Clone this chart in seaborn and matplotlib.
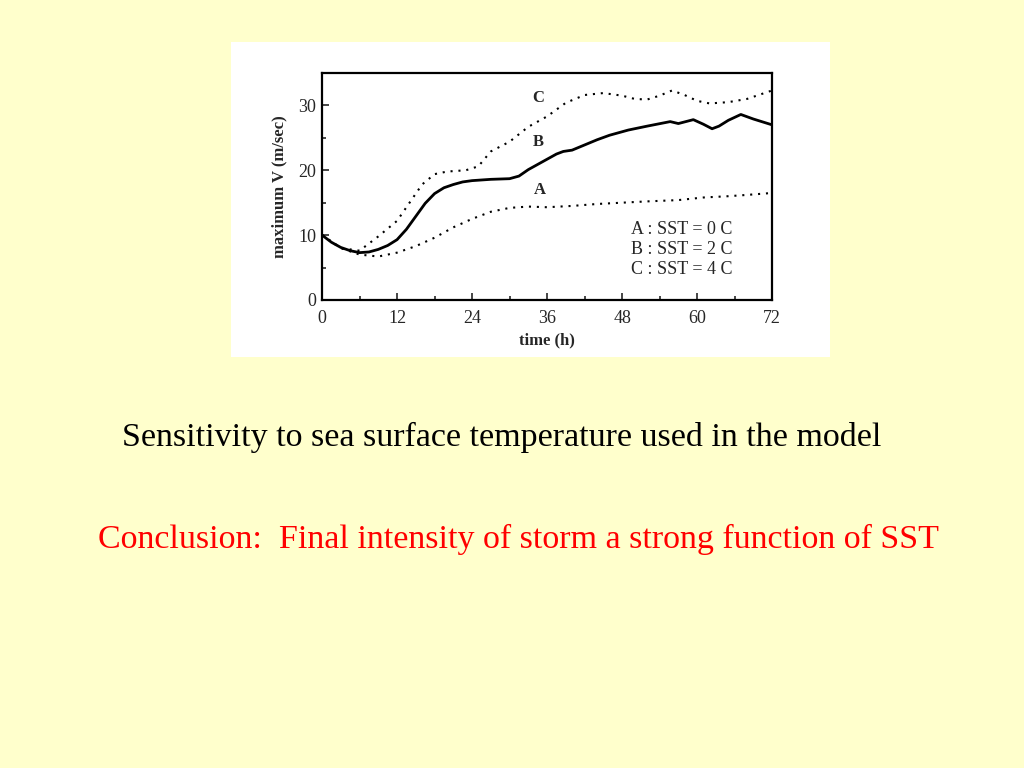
import matplotlib
matplotlib.use("Agg")
import matplotlib.pyplot as plt
from matplotlib.patches import Rectangle
from matplotlib.ticker import MultipleLocator
import seaborn as sns
import pandas as pd

# data
time_a = [0, 3, 6, 9, 12, 15, 18, 21, 24, 27, 30, 33, 36, 40, 44, 48, 52, 57, 61, 65, 68, 72]
sst_a = [10, 8.0, 7.0, 6.7, 7.3, 8.3, 9.6, 11.2, 12.5, 13.6, 14.2, 14.4, 14.3, 14.5, 14.8, 15.0, 15.2, 15.4, 15.8, 16.0, 16.2, 16.5]

time_b = [0, 1.5, 3, 4.5, 6, 7.5, 9, 10.5, 12, 13.5, 15, 16.5, 18, 19.5, 21, 22.5, 24, 27, 30, 31.5,
          33, 34.5, 36, 37.5, 38.6, 40, 42, 44, 46, 49, 52, 55.7, 57, 59.4, 61, 62.4, 63.5, 65, 67, 69, 72]
sst_b = [10, 8.9, 8.1, 7.6, 7.3, 7.4, 7.8, 8.4, 9.3, 10.9, 12.9, 14.9, 16.4, 17.3, 17.8, 18.2, 18.4, 18.6, 18.7, 19.1,
         20.1, 20.9, 21.7, 22.5, 22.9, 23.1, 23.9, 24.7, 25.4, 26.2, 26.8, 27.5, 27.2, 27.8, 27.1, 26.4, 26.8, 27.7, 28.6, 27.9, 27.0]

time_c = [0, 3, 6, 9, 12, 14, 16, 18, 20, 23, 25, 27, 30, 33, 36, 39, 42, 45, 48, 50, 52, 54, 56, 58, 60, 62, 65, 68, 72]
sst_c = [10, 8.0, 7.6, 9.8, 12.2, 15.0, 17.8, 19.4, 19.8, 20.0, 20.6, 22.9, 24.4, 26.7, 28.3, 30.4, 31.6, 31.9, 31.5, 31.0, 30.9, 31.5, 32.3, 31.6, 30.7, 30.3, 30.5, 31.0, 32.3]

curve_names = ["A", "B", "C"]
legend_lines = ["A : SST = 0 C", "B : SST = 2 C", "C : SST = 4 C"]
x_ticks = [0, 12, 24, 36, 48, 60, 72]
y_ticks = [0, 10, 20, 30]

df = pd.concat([
    pd.DataFrame({"time": time_a, "v": sst_a, "run": "A"}),
    pd.DataFrame({"time": time_b, "v": sst_b, "run": "B"}),
    pd.DataFrame({"time": time_c, "v": sst_c, "run": "C"}),
])

sns.set_style("ticks")
plt.rcParams["font.family"] = ["Liberation Serif", "DejaVu Serif"]

bg = "#FFFFCC"
fig = plt.figure(figsize=(10.24, 7.68), dpi=100, facecolor=bg)
fig.patches.append(Rectangle((0.2256, 0.5352), 0.585, 0.41, transform=fig.transFigure,
                             facecolor="white", edgecolor="none", zorder=-10))

ax = fig.add_axes([0.3145, 0.6094, 0.4395, 0.2956])
ax.set_facecolor("white")

styles = {"A": (0, (1, 2.8)), "B": "-", "C": (0, (1, 2.8))}
widths = {"A": 1.5, "B": 2.0, "C": 1.5}
for name in curve_names:
    sub = df[df["run"] == name]
    sns.lineplot(data=sub, x="time", y="v", ax=ax, color="black", linestyle=styles[name],
                 linewidth=widths[name], estimator=None, sort=True, legend=False)

ax.set_xlim(0, 72)
ax.set_ylim(0, 35)
ax.set_xticks(x_ticks)
ax.set_yticks(y_ticks)
ax.xaxis.set_minor_locator(MultipleLocator(6))
ax.yaxis.set_minor_locator(MultipleLocator(5))
ax.tick_params(which="both", direction="in", top=False, right=False, width=1.2)
ax.tick_params(which="major", length=5, labelsize=13)
ax.tick_params(axis="x", which="major", pad=7)
ax.tick_params(axis="y", which="major", pad=4)
ax.tick_params(which="minor", length=3)
for s in ax.spines.values():
    s.set_linewidth(1.6)
    s.set_color("black")

ax.set_xlabel("time (h)", fontsize=12, fontweight="bold", labelpad=4)
ax.set_ylabel("maximum V (m/sec)", fontsize=12, fontweight="bold", labelpad=8)

ax.text(34.6, 31.2, "C", fontsize=12, fontweight="bold", ha="center", va="center")
ax.text(34.6, 24.3, "B", fontsize=12, fontweight="bold", ha="center", va="center")
ax.text(34.9, 17.0, "A", fontsize=12, fontweight="bold", ha="center", va="center")
for i, line in enumerate(legend_lines):
    ax.text(57.5, 10.9 - 3.1 * i, line, fontsize=13, ha="center", va="center")

fig.text(0.490, 0.43, "Sensitivity to sea surface temperature used in the model",
         fontsize=24.5, ha="center", va="center", color="black")
fig.text(0.5063, 0.297, "Conclusion:  Final intensity of storm a strong function of SST",
         fontsize=24.5, ha="center", va="center", color="#FF0000")

fig.savefig("out.png", dpi=100, facecolor=bg)
